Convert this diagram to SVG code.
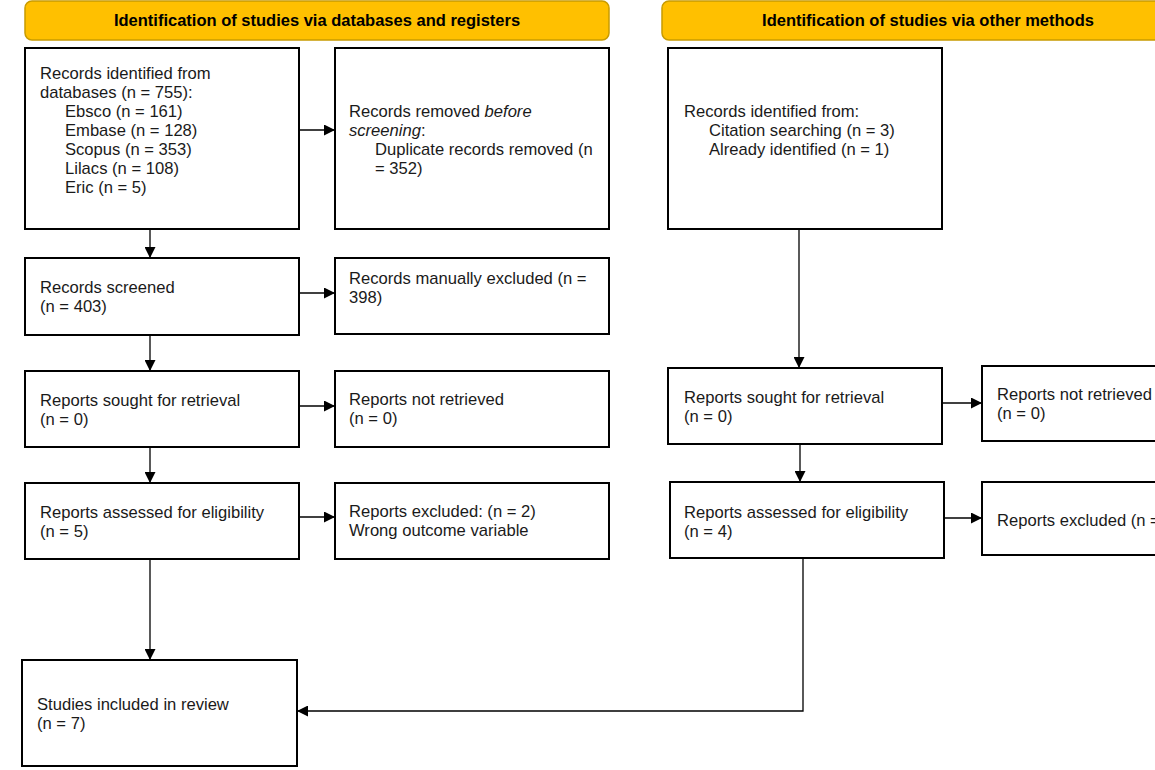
<svg xmlns="http://www.w3.org/2000/svg" width="1155" height="770" viewBox="0 0 1155 770">
<style>
.hdr{fill:#FFC000;stroke:#C89B00;stroke-width:1.5}
.ht{font-family:"Liberation Sans",Arial,sans-serif;font-size:16.5px;font-weight:bold;fill:#000;text-anchor:middle}
.box{fill:#fff;stroke:#000;stroke-width:2}
.t{font-family:"Liberation Sans",Arial,sans-serif;font-size:16.6px;fill:#1a1a1a}
.c{fill:none;stroke:#000;stroke-width:1.3}
</style>
<defs>
<marker id="ah" markerWidth="11" markerHeight="11" refX="11" refY="5.5" orient="auto" markerUnits="userSpaceOnUse">
<path d="M0,0 L11,5.5 L0,11 Z" fill="#000"/>
</marker>
</defs>
<rect width="1155" height="770" fill="#fff"/>
<g id="header-db"><rect class="hdr" x="25" y="1" width="584" height="39" rx="7"/><text class="ht" x="317" y="26">Identification of studies via databases and registers</text></g>
<g id="header-other"><rect class="hdr" x="662" y="1" width="532" height="39" rx="7"/><text class="ht" x="928" y="26">Identification of studies via other methods</text></g>

<g id="records-identified"><rect class="box" x="25" y="48" width="274" height="181"/>
<text class="t" x="40" y="79">Records identified from</text>
<text class="t" x="40" y="98">databases (n = 755):</text>
<text class="t" x="65" y="117">Ebsco (n = 161)</text>
<text class="t" x="65" y="136">Embase (n = 128)</text>
<text class="t" x="65" y="155">Scopus (n = 353)</text>
<text class="t" x="65" y="174">Lilacs (n = 108)</text>
<text class="t" x="65" y="193">Eric (n = 5)</text></g>
<g id="records-removed"><rect class="box" x="335" y="48" width="274" height="181"/>
<text class="t" x="349" y="117">Records removed <tspan font-style="italic">before</tspan></text>
<text class="t" x="349" y="136"><tspan font-style="italic">screening</tspan>:</text>
<text class="t" x="375" y="155">Duplicate records removed (n</text>
<text class="t" x="375" y="174">= 352)</text></g>
<g id="records-screened"><rect class="box" x="25" y="258" width="274" height="77"/>
<text class="t" x="40" y="293">Records screened</text><text class="t" x="40" y="312">(n = 403)</text></g>
<g id="records-excluded"><rect class="box" x="335" y="258" width="274" height="76"/>
<text class="t" x="349" y="284">Records manually excluded (n =</text><text class="t" x="349" y="303">398)</text></g>
<g id="reports-sought"><rect class="box" x="25" y="371" width="274" height="76"/>
<text class="t" x="40" y="406">Reports sought for retrieval</text><text class="t" x="40" y="425">(n = 0)</text></g>
<g id="reports-not-retrieved"><rect class="box" x="335" y="371" width="274" height="76"/>
<text class="t" x="349" y="405">Reports not retrieved</text><text class="t" x="349" y="424">(n = 0)</text></g>
<g id="reports-assessed"><rect class="box" x="25" y="483" width="274" height="76"/>
<text class="t" x="40" y="518">Reports assessed for eligibility</text><text class="t" x="40" y="537">(n = 5)</text></g>
<g id="reports-excluded"><rect class="box" x="335" y="483" width="274" height="76"/>
<text class="t" x="349" y="517">Reports excluded: (n = 2)</text><text class="t" x="349" y="536">Wrong outcome variable</text></g>
<g id="studies-included"><rect class="box" x="22" y="660" width="275" height="106"/>
<text class="t" x="37" y="710">Studies included in review</text><text class="t" x="37" y="729">(n = 7)</text></g>

<g id="other-records-identified"><rect class="box" x="668" y="48" width="274" height="181"/>
<text class="t" x="684" y="117">Records identified from:</text>
<text class="t" x="709" y="136">Citation searching (n = 3)</text>
<text class="t" x="709" y="155">Already identified (n = 1)</text></g>
<g id="other-reports-sought"><rect class="box" x="668" y="368" width="274" height="76"/>
<text class="t" x="684" y="403">Reports sought for retrieval</text><text class="t" x="684" y="422">(n = 0)</text></g>
<g id="other-reports-not-retrieved"><rect class="box" x="982" y="366" width="200" height="75"/>
<text class="t" x="997" y="400">Reports not retrieved</text><text class="t" x="997" y="419">(n = 0)</text></g>
<g id="other-reports-assessed"><rect class="box" x="670" y="482" width="274" height="76"/>
<text class="t" x="684" y="518">Reports assessed for eligibility</text><text class="t" x="684" y="537">(n = 4)</text></g>
<g id="other-reports-excluded"><rect class="box" x="982" y="482" width="200" height="73"/>
<text class="t" x="997" y="526">Reports excluded (n =</text></g>

<g id="connectors">
<line class="c" x1="299" y1="130" x2="335" y2="130" marker-end="url(#ah)"/>
<line class="c" x1="150" y1="229" x2="150" y2="258" marker-end="url(#ah)"/>
<line class="c" x1="299" y1="293" x2="335" y2="293" marker-end="url(#ah)"/>
<line class="c" x1="150" y1="335" x2="150" y2="371" marker-end="url(#ah)"/>
<line class="c" x1="299" y1="406" x2="335" y2="406" marker-end="url(#ah)"/>
<line class="c" x1="150" y1="447" x2="150" y2="483" marker-end="url(#ah)"/>
<line class="c" x1="299" y1="517" x2="335" y2="517" marker-end="url(#ah)"/>
<line class="c" x1="150" y1="559" x2="150" y2="660" marker-end="url(#ah)"/>
<line class="c" x1="799" y1="229" x2="799" y2="368" marker-end="url(#ah)"/>
<line class="c" x1="942" y1="403" x2="982" y2="403" marker-end="url(#ah)"/>
<line class="c" x1="800" y1="444" x2="800" y2="482" marker-end="url(#ah)"/>
<line class="c" x1="944" y1="518" x2="982" y2="518" marker-end="url(#ah)"/>
<path class="c" d="M803,558 L803,711 L297,711" marker-end="url(#ah)"/>
</g>
</svg>
